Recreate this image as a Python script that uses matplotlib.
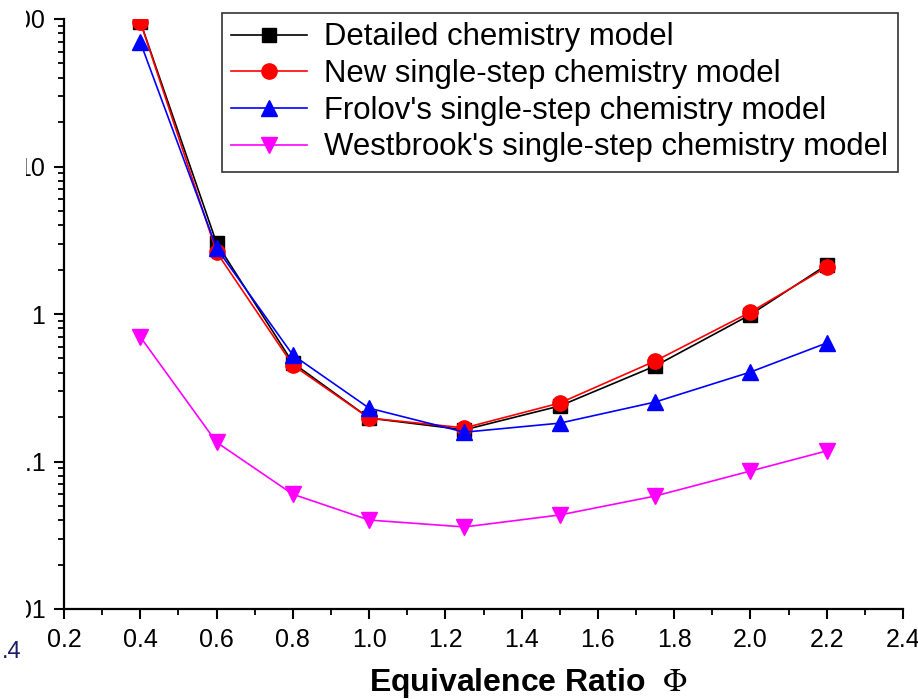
import matplotlib
matplotlib.use("Agg")
import matplotlib.pyplot as plt
from matplotlib.ticker import MultipleLocator, LogLocator, FixedLocator, FixedFormatter
from matplotlib.patches import Rectangle

plt.rcParams["font.family"] = ["Liberation Sans", "DejaVu Sans"]
plt.rcParams["mathtext.fontset"] = "stix"

# -------------------------------
# Data
# -------------------------------
phi = [0.4, 0.6, 0.8, 1.0, 1.25, 1.5, 1.75, 2.0, 2.2]

detailed = [96, 3.03, 0.466, 0.197, 0.164, 0.238, 0.444, 0.99, 2.15]
new_single = [96, 2.63, 0.45, 0.197, 0.169, 0.249, 0.48, 1.03, 2.08]
frolov = [69.8, 2.80, 0.527, 0.23, 0.158, 0.182, 0.253, 0.404, 0.636]
westbrook = [0.70, 0.135, 0.060, 0.0401, 0.036, 0.0434, 0.0583, 0.0862, 0.118]

labels = [
    "Detailed chemistry model",
    "New single-step chemistry model",
    "Frolov's single-step chemistry model",
    "Westbrook's single-step chemistry model",
]

y_ticks = [0.01, 0.1, 1, 10, 100]
y_ticklabels = ["0.01", "0.1", "1", "10", "100"]

# -------------------------------
# Plot setup
# -------------------------------
fig = plt.figure(figsize=(9.18, 6.99), dpi=100)
ax = fig.add_axes([64 / 918, 1 - 609 / 699, 839 / 918, 590 / 699])

ax.plot(phi, detailed, color="black", lw=1.2, marker="s", ms=9.5, label=labels[0])
ax.plot(phi, new_single, color="red", lw=1.2, marker="o", ms=11, label=labels[1])
ax.plot(phi, frolov, color="blue", lw=1.2, marker="^", ms=12, label=labels[2])
ax.plot(phi, westbrook, color="magenta", lw=1.2, marker="v", ms=12, label=labels[3])

ax.set_yscale("log")
ax.set_ylim(0.01, 100)
ax.set_xlim(0.2, 2.4)

ax.yaxis.set_major_locator(FixedLocator(y_ticks))
ax.yaxis.set_major_formatter(FixedFormatter(y_ticklabels))
ax.yaxis.set_minor_locator(LogLocator(base=10, subs=range(2, 10)))
ax.xaxis.set_major_locator(MultipleLocator(0.2))
ax.xaxis.set_minor_locator(MultipleLocator(0.1))
ax.xaxis.set_major_formatter(plt.FuncFormatter(lambda v, p: f"{v:.1f}"))

ax.spines["top"].set_visible(False)
ax.spines["right"].set_visible(False)
for s in ["left", "bottom"]:
    ax.spines[s].set_linewidth(1.6)

ax.tick_params(which="major", direction="out", length=7.5, width=1.5,
               labelsize=18, pad=6)
ax.tick_params(which="minor", direction="out", length=4.5, width=1.3)

ax.set_xlabel("Equivalence Ratio  $\\Phi$", fontsize=23, fontweight="bold",
              va="center")
ax.xaxis.set_label_coords(0.553, (609 - 683) / 590)

leg = ax.legend(loc="upper left", bbox_to_anchor=(0.188, 1.01),
                borderaxespad=0, fontsize=22.4, frameon=True, fancybox=False,
                handlelength=2.45, handletextpad=0.55, labelspacing=0.215,
                borderpad=0.3)
leg.get_frame().set_edgecolor("black")
leg.get_frame().set_linewidth(1.2)

# left strip of the source is cut off
fig.patches.append(Rectangle((0, 0.1), 26 / 918, 0.9, transform=fig.transFigure,
                             facecolor="white", edgecolor="none", zorder=10))
fig.text(2 / 918, 1 - 652 / 699, ".4", fontsize=17, color="#1a1a6a",
         ha="left", va="center")

fig.savefig("out.png", dpi=100)
